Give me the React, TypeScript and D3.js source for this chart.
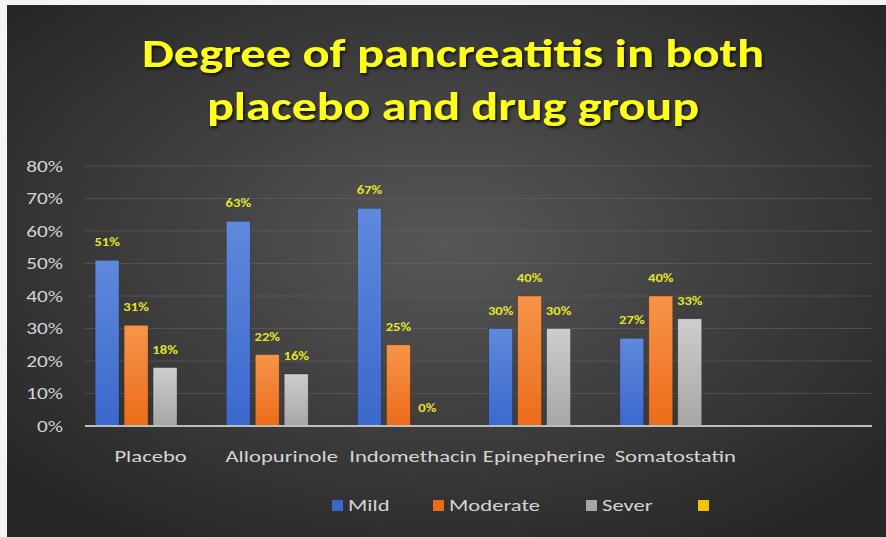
import { useEffect, useRef } from 'react';
import * as d3 from 'd3';

// ─── Data ───────────────────────────────────────────────────

const categories = ['Placebo', 'Allopurinole', 'Indomethacin', 'Epinepherine', 'Somatostatin', ''];
const seriesNames = ['Mild', 'Moderate', 'Sever', ''];
const mild = [0.51, 0.63, 0.67, 0.30, 0.27, null];
const moderate = [0.31, 0.22, 0.25, 0.40, 0.40, null];
const sever = [0.18, 0.16, 0.0, 0.30, 0.33, null];
const fourth = [null, null, null, null, null, null];
const yTicks = [0, 0.1, 0.2, 0.3, 0.4, 0.5, 0.6, 0.7, 0.8];
const titleLines = ['Degree of pancreatitis in both', 'placebo and drug group'];

// ─── Constants ──────────────────────────────────────────────

const W = 886;
const H = 537;
const PLOT = { left: 85, right: 872, top: 166, bottom: 426 };
const COLORS = [
  ['#6089dc', '#3a68cc'],
  ['#f7944a', '#ec6c1a'],
  ['#cdcdcd', '#a6a6a6'],
  ['#ffd84a', '#f5c400'],
];
const FONT = "Carlito, 'Liberation Sans Narrow', 'Open Sans', sans-serif";
// the source picture is stretched sideways, so text is widened to match
const SX = 1.33;

export default function App() {
  const svgRef = useRef<SVGSVGElement>(null);

  useEffect(() => {
    if (!svgRef.current) return;
    const svg = d3.select(svgRef.current);
    svg.selectAll('*').remove();

    const defs = svg.append('defs');
    const bg = defs.append('radialGradient').attr('id', 'bg')
      .attr('cx', '50%').attr('cy', '45%').attr('r', '65%');
    bg.append('stop').attr('offset', '0%').attr('stop-color', '#575757');
    bg.append('stop').attr('offset', '100%').attr('stop-color', '#272727');

    COLORS.forEach((c, i) => {
      const lg = defs.append('linearGradient').attr('id', `bar${i}`)
        .attr('x1', 0).attr('y1', 0).attr('x2', 0).attr('y2', 1);
      lg.append('stop').attr('offset', '0%').attr('stop-color', c[0]);
      lg.append('stop').attr('offset', '100%').attr('stop-color', c[1]);
    });

    const shadow = defs.append('filter').attr('id', 'tshadow')
      .attr('x', '-10%').attr('y', '-20%').attr('width', '120%').attr('height', '150%');
    shadow.append('feDropShadow').attr('dx', 1.5).attr('dy', 2).attr('stdDeviation', 1.5)
      .attr('flood-color', '#000').attr('flood-opacity', 0.8);

    const stretch = (x: number, y: number) => `translate(${x},${y}) scale(${SX},1)`;

    // Page frame + background
    svg.append('rect').attr('width', W).attr('height', H).attr('fill', '#f4f4f4');
    svg.append('rect').attr('x', 7).attr('y', 5).attr('width', W - 7).attr('height', H - 5)
      .attr('fill', 'url(#bg)');

    // Title
    svg.append('g').attr('filter', 'url(#tshadow)')
      .selectAll('text').data(titleLines).join('text')
      .attr('x', 453)
      .attr('y', (_, i) => 67 + i * 53)
      .attr('text-anchor', 'middle')
      .attr('font-family', FONT)
      .attr('font-weight', 700)
      .attr('font-size', 40)
      .attr('fill', '#ffff1a')
      .attr('textLength', (_, i) => (i === 0 ? 622 : 492))
      .attr('lengthAdjust', 'spacingAndGlyphs')
      .text((d) => d);

    // Scales
    const y = d3.scaleLinear().domain([0, 0.8]).range([PLOT.bottom, PLOT.top]);
    const x0 = d3.scaleBand<number>()
      .domain(d3.range(categories.length))
      .range([PLOT.left, PLOT.right])
      .paddingInner(0.154)
      .paddingOuter(0.077);
    const x1 = d3.scaleBand<number>()
      .domain(d3.range(seriesNames.length))
      .range([0, x0.bandwidth()])
      .paddingInner(0.17);

    // Grid
    svg.append('g').selectAll('line').data(yTicks.filter((t) => t > 0)).join('line')
      .attr('x1', PLOT.left).attr('x2', PLOT.right)
      .attr('y1', (d) => y(d)).attr('y2', (d) => y(d))
      .attr('stroke', '#666').attr('stroke-width', 1).attr('opacity', 0.55);

    // Y tick labels
    svg.append('g').selectAll('text').data(yTicks).join('text')
      .attr('transform', (d) => stretch(63, y(d)))
      .attr('dy', '0.35em')
      .attr('text-anchor', 'end')
      .attr('font-family', FONT)
      .attr('font-size', 16)
      .attr('fill', '#d4d4d4')
      .text((d) => d3.format('.0%')(d));

    // Bars
    const allSeries = [mild, moderate, sever, fourth];
    const rows = allSeries.flatMap((vals, si) =>
      vals.map((v, ci) => ({ si, ci, v })).filter((d) => d.v !== null)) as { si: number; ci: number; v: number }[];

    svg.append('g').selectAll('rect').data(rows.filter((d) => d.v > 0)).join('rect')
      .attr('x', (d) => x0(d.ci)! + x1(d.si)!)
      .attr('y', (d) => y(d.v))
      .attr('width', x1.bandwidth())
      .attr('height', (d) => y(0) - y(d.v))
      .attr('fill', (d) => `url(#bar${d.si})`)
      .attr('stroke', 'rgba(0,0,0,0.35)')
      .attr('stroke-width', 0.8);

    // Value labels
    svg.append('g').selectAll('text').data(rows).join('text')
      .attr('transform', (d) => stretch(x0(d.ci)! + x1(d.si)! + x1.bandwidth() / 2, y(d.v) - 14))
      .attr('text-anchor', 'middle')
      .attr('font-family', FONT)
      .attr('font-weight', 700)
      .attr('font-size', 11)
      .attr('fill', '#e4e42a')
      .text((d) => d3.format('.0%')(d.v));

    // Baseline
    svg.append('line')
      .attr('x1', PLOT.left).attr('x2', PLOT.right)
      .attr('y1', y(0)).attr('y2', y(0))
      .attr('stroke', '#bdbdbd').attr('stroke-width', 2);

    // X labels
    svg.append('g').selectAll('text').data(categories).join('text')
      .attr('transform', (_, i) => stretch(x0(i)! + x0.bandwidth() / 2, 462))
      .attr('text-anchor', 'middle')
      .attr('font-family', FONT)
      .attr('font-size', 17)
      .attr('fill', '#d4d4d4')
      .text((d) => d);

    // Legend
    const legendX = [332, 433, 586, 698];
    const lg = svg.append('g').selectAll('g').data(seriesNames).join('g')
      .attr('transform', (_, i) => `translate(${legendX[i]},505)`);
    lg.append('rect')
      .attr('x', 0).attr('y', -5).attr('width', 11).attr('height', 11)
      .attr('fill', (_, i) => COLORS[i][1]);
    lg.append('text')
      .attr('transform', stretch(16, 0))
      .attr('dy', '0.35em')
      .attr('font-family', FONT)
      .attr('font-size', 17)
      .attr('fill', '#d4d4d4')
      .text((d) => d);
  }, []);

  return (
    <svg ref={svgRef} width={W} height={H}
      style={{ position: 'absolute', left: 0, top: 0, display: 'block' }} />
  );
}
